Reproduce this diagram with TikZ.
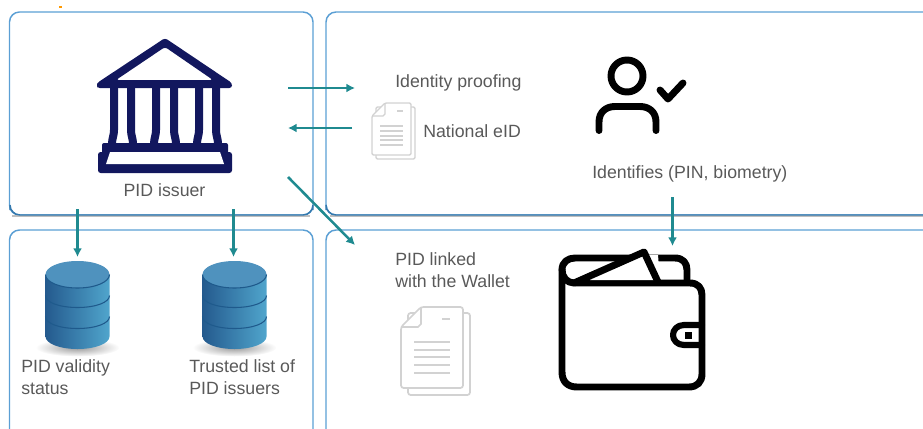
\documentclass[tikz,border=0pt]{standalone}
\usepackage{fontspec}
\setmainfont{Liberation Sans}
\usetikzlibrary{arrows.meta}
\definecolor{panelblue}{HTML}{5B9FD4}
\definecolor{paneldark}{HTML}{3479AE}
\definecolor{teal}{HTML}{1F8A90}
\definecolor{bank}{HTML}{12175E}
\definecolor{txt}{HTML}{595959}
\definecolor{docgray}{HTML}{D2D2D2}
\definecolor{dbleft}{HTML}{245A8E}
\definecolor{dbright}{HTML}{50A5CC}
\definecolor{dbtop}{HTML}{4F92BE}
\definecolor{dbline}{HTML}{1F5A8C}
\tikzset{
  x=0.75pt,y=-0.75pt,
  panel/.style={draw=panelblue,line width=1.1pt,rounded corners=7.5pt},
  paneledge/.style={draw=paneldark,line width=1.1pt,rounded corners=7.5pt},
  panelshadow/.style={draw=black!25,line width=1.1pt,rounded corners=7.5pt},
  flow/.style={draw=teal,line width=1.9pt,-{Latex[length=6.5pt,width=6.8pt]}},
  label/.style={font=\fontsize{13.3pt}{16pt}\selectfont,text=txt,inner sep=0pt,anchor=base west},
  column/.style={draw=bank,line width=6pt,line cap=butt},
  docline/.style={draw=docgray,line width=1pt,line join=round},
  iconline/.style={draw=black,line width=5.2pt,line cap=round,line join=round},
  dbicon/.pic={
    \shade[inner color=black!40,outer color=white] (0,73) ellipse[x radius=42,y radius=9];
    \shade[left color=dbleft,right color=dbright]
      (-32,0) -- (-32,62) .. controls (-32,69) and (-18,74.5) .. (0,74.5)
      .. controls (18,74.5) and (32,69) .. (32,62) -- (32,0) -- cycle;
    \fill[dbtop] (-32,0) .. controls (-32,-7.5) and (-18,-13.5) .. (0,-13.5)
      .. controls (18,-13.5) and (32,-7.5) .. (32,0)
      .. controls (32,7.5) and (18,13.5) .. (0,13.5)
      .. controls (-18,13.5) and (-32,7.5) .. (-32,0) -- cycle;
    \draw[dbline,line width=0.8pt] (-32,0) .. controls (-32,7.5) and (-18,13.5) .. (0,13.5)
      .. controls (18,13.5) and (32,7.5) .. (32,0);
    \draw[dbline,line width=0.8pt] (-32,21) .. controls (-32,28) and (-18,33) .. (0,33)
      .. controls (18,33) and (32,28) .. (32,21);
    \draw[dbline,line width=0.8pt] (-32,42) .. controls (-32,49) and (-18,54) .. (0,54)
      .. controls (18,54) and (32,49) .. (32,42);
  },
}
\begin{document}
\begin{tikzpicture}
\clip (0,0) rectangle (923,428);
% panels
\draw[panel] (9.5,12) rectangle (313,215);
\draw[panel] (326,12) rectangle (960,215);
\draw[panel] (9.5,230) rectangle (313,470);
\draw[panel] (326,230) rectangle (960,470);
\draw[panelshadow] (12,216.2) -- (310,216.2);
\draw[panelshadow] (330,216.2) -- (960,216.2);
\draw[paneledge] (10,210) |- (313,215) -- (313,210);
\draw[paneledge] (326,210) |- (960,215);
% speck
\fill[orange!80!yellow] (59,6.5) rectangle (62,8);
% bank icon
\fill[bank,rounded corners=2pt,even odd rule] (97,85.5) -- (97,83) -- (165,38) -- (232,83) -- (232,88) -- (97,88) -- cycle
  (165,47) -- (213,80) -- (116,80) -- cycle;
\foreach \a/\b in {114/131,156/174,199/216}{
  \draw[column] (\a,86) -- (\a,130) .. controls (\a,136) and (\a-2,138) .. (\a-2,144);
  \draw[column] (\b,86) -- (\b,130) .. controls (\b,136) and (\b+2,138) .. (\b+2,144);
}
\fill[bank,rounded corners=1.5pt] (102,143) rectangle (228,156);
\fill[bank,rounded corners=2pt] (98,152) rectangle (232,173);
\fill[white] (110,152) -- (220,152) -- (224,164) -- (106,164) -- cycle;
% person icon
\draw[iconline] (627,76) circle[radius=16];
\draw[iconline] (599,130.5) -- (599,122) .. controls (599,112) and (606,106.5) .. (615,106.5)
  -- (640,106.5) .. controls (649,106.5) and (656,112) .. (656,122) -- (656,130.5);
\draw[iconline] (660,90) -- (668,99) -- (683,83);
% small document
\draw[docline,fill=white,rounded corners=1pt] (376,107) rectangle (415,159);
\draw[docline,fill=white,rounded corners=1pt] (385,103) -- (411,103) -- (411,155) -- (372,155) -- (372,116) -- cycle;
\draw[docline] (372,116) -- (383,116) -- (385,114) -- (385,103);
\draw[docline] (397,111) -- (403,111);
\foreach \y in {126,131,136,140,145}{\draw[docline] (380,\y) -- (403,\y);}
% big document
\draw[docline,line width=1.3pt,fill=white,rounded corners=2pt] (408,313) rectangle (470,395);
\draw[docline,line width=1.3pt,fill=white,rounded corners=2pt] (421,307) -- (463,307) -- (463,388) -- (401,388) -- (401,327) -- cycle;
\draw[docline,line width=1.3pt] (401,327) -- (418,327) -- (421,324) -- (421,307);
\draw[docline,line width=1.3pt] (442,319) -- (450,319);
\foreach \y in {342,350,357,365,373}{\draw[docline,line width=1.3pt] (414,\y) -- (450,\y);}
% wallet
\draw[iconline] (562,270) .. controls (562,262) and (568,258) .. (575,258) -- (675,258)
  .. controls (683,258) and (687,263) .. (687,270) -- (687,282);
\draw[iconline] (562,270) -- (562,372) .. controls (562,382) and (568,387) .. (577,387)
  -- (689,387) .. controls (697,387) and (702,382) .. (702,374)
  -- (702,295) .. controls (702,288) and (698,283) .. (690,283) -- (574,283)
  .. controls (567,283) and (562,277) .. (562,270);
\fill[white] (641,255) -- (658,255) -- (660,280) -- (590,280) -- cycle;
\draw[iconline] (574,283) -- (644,252) -- (658,282);
\draw[iconline,line width=4.6pt] (702,325) -- (684,325) .. controls (677,325) and (673,330) .. (673,335)
  .. controls (673,340) and (677,345) .. (684,345) -- (702,345);
\fill[black] (685,332) rectangle (691.5,338.5);
% databases
\pic at (77.5,274.5) {dbicon};
\pic at (234.5,274.5) {dbicon};
% labels
\node[label,anchor=base] (issuer) at (164.5,196) {PID issuer};
\node[label] (proofing) at (395,87.7) {Identity proofing};
\node[label] (eid) at (423,137.7) {National eID};
\node[label] (identifies) at (592,178) {Identifies (PIN, biometry)};
\node[label] (linked1) at (395,265.7) {PID linked};
\node[label] (linked2) at (395,287) {with the Wallet};
\node[label] (validity1) at (21,372.7) {PID validity};
\node[label] (validity2) at (21,394) {status};
\node[label] (trusted1) at (189,372.7) {Trusted list of};
\node[label] (trusted2) at (189,394) {PID issuers};
% connector ends
\coordinate (a1s) at (288,88); \coordinate (a1e) at (355,88);
\coordinate (a2s) at (352,128); \coordinate (a2e) at (288,128);
\coordinate (a3s) at (288,177); \coordinate (a3e) at (355,245);
\coordinate (a4s) at (77.5,209); \coordinate (a4e) at (77.5,257);
\coordinate (a5s) at (233.5,209); \coordinate (a5e) at (233.5,257);
\coordinate (a6s) at (672.5,197); \coordinate (a6e) at (672.5,246);
\draw[flow] (a1s) -- (a1e);
\draw[flow] (a2s) -- (a2e);
\draw[flow] (a3s) -- (a3e);
\draw[flow] (a4s) -- (a4e);
\draw[flow] (a5s) -- (a5e);
\draw[flow] (a6s) -- (a6e);
\end{tikzpicture}
\end{document}
